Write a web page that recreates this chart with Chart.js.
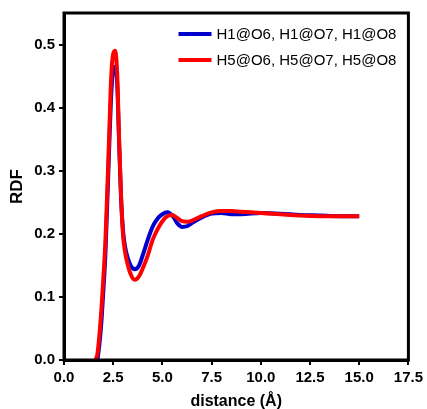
<!DOCTYPE html>
<html>
<head>
<meta charset="utf-8">
<script src="https://cdn.jsdelivr.net/npm/chart.js@4/dist/chart.umd.min.js"></script>
<style>
  html, body { margin: 0; padding: 0; background: #fff; }
  #wrap { width: 427px; height: 409px; }
</style>
</head>
<body>
<div id="wrap"><canvas id="rdfChart"></canvas></div>
<script>
// distance grid (Å)
const distance = [1.6, 1.7, 1.8, 1.9, 2.0, 2.1, 2.2, 2.3, 2.4, 2.5, 2.6, 2.7, 2.8, 2.9, 3.0, 3.1,
  3.2, 3.4, 3.6, 3.8, 4.0, 4.25, 4.5, 4.75, 5.0, 5.25, 5.5, 5.75, 6.0, 6.25, 6.5,
  7.0, 7.5, 8.0, 8.5, 9.0, 10.0, 11.0, 12.0, 13.0, 14.0, 15.0];

// H1@O6, H1@O7, H1@O8
const rdfH1 = [null, 0, 0.025, 0.06, 0.11, 0.165, 0.25, 0.34, 0.42, 0.46, 0.465, 0.44, 0.345, 0.255, 0.205, 0.18,
  0.166, 0.149, 0.144, 0.149, 0.166, 0.19, 0.211, 0.224, 0.231, 0.234, 0.229, 0.217, 0.211, 0.212, 0.217,
  0.226, 0.232, 0.233, 0.231, 0.231, 0.233, 0.232, 0.230, 0.229, 0.228, 0.228];

// H5@O6, H5@O7, H5@O8
const rdfH5 = [0, 0.01, 0.04, 0.08, 0.13, 0.185, 0.27, 0.36, 0.45, 0.485, 0.49, 0.455, 0.35, 0.26, 0.198, 0.172,
  0.156, 0.135, 0.127, 0.132, 0.145, 0.165, 0.19, 0.207, 0.22, 0.228, 0.23, 0.225, 0.22, 0.219, 0.221,
  0.228, 0.234, 0.236, 0.236, 0.235, 0.233, 0.231, 0.229, 0.228, 0.228, 0.228];

const seriesLabels = ['H1@O6, H1@O7, H1@O8', 'H5@O6, H5@O7, H5@O8'];
const seriesColors = ['#0000cc', '#ff0000'];

const FONT = "'Liberation Sans', Arial, sans-serif";

function toPoints(ys) {
  return distance.map((x, i) => ({ x: x, y: ys[i] }));
}

// frame around the plot + legend in the top right corner
const framePlugin = {
  id: 'frame',
  afterDraw(chart) {
    const ctx = chart.ctx;
    const a = chart.chartArea;
    ctx.save();
    ctx.strokeStyle = '#000';
    ctx.lineWidth = 3;
    ctx.strokeRect(a.left, a.top, a.right - a.left, a.bottom - a.top);

    ctx.font = '15px ' + FONT;
    ctx.textBaseline = 'middle';
    const widths = seriesLabels.map(t => ctx.measureText(t).width);
    const textLeft = a.right - 12 - Math.max(...widths);
    chart.data.datasets.forEach((ds, i) => {
      const y = a.top + 21 + i * 26;
      ctx.strokeStyle = ds.borderColor;
      ctx.lineWidth = 4;
      ctx.beginPath();
      ctx.moveTo(textLeft - 38, y);
      ctx.lineTo(textLeft - 5, y);
      ctx.stroke();
      ctx.fillStyle = '#000';
      ctx.fillText(ds.label, textLeft, y + 1);
    });
    ctx.restore();
  }
};

const ctx = document.getElementById('rdfChart').getContext('2d');
const rdfChart = new Chart(ctx, {
  type: 'line',
  data: {
    datasets: [
      {
        label: seriesLabels[0],
        data: toPoints(rdfH1),
        borderColor: seriesColors[0],
        borderWidth: 4,
        pointRadius: 0,
        cubicInterpolationMode: 'monotone',
        order: 2
      },
      {
        label: seriesLabels[1],
        data: toPoints(rdfH5),
        borderColor: seriesColors[1],
        borderWidth: 4,
        pointRadius: 0,
        cubicInterpolationMode: 'monotone',
        order: 1
      }
    ]
  },
  options: {
    responsive: true,
    maintainAspectRatio: false,
    animation: false,
    layout: { padding: { top: 13, right: 17, left: 0, bottom: 0 } },
    plugins: {
      legend: { display: false },
      tooltip: { enabled: false }
    },
    scales: {
      x: {
        type: 'linear',
        min: 0,
        max: 17.5,
        grid: { drawOnChartArea: false, drawTicks: true, tickLength: 5, color: '#000', lineWidth: 2 },
        border: { color: '#000', width: 3 },
        ticks: {
          stepSize: 2.5,
          padding: 4,
          color: '#000',
          maxRotation: 0,
          font: { family: FONT, size: 15, weight: 'bold' },
          callback: v => v.toFixed(1)
        },
        title: {
          display: true,
          text: 'distance (Å)',
          color: '#000',
          font: { family: FONT, size: 16, weight: 'bold', lineHeight: 0.9 },
          padding: { top: 0, bottom: 0 }
        },
        afterFit(scale) { scale.height = 49; }
      },
      y: {
        min: 0,
        max: 0.55,
        grid: { drawOnChartArea: false, drawTicks: true, tickLength: 5, color: '#000', lineWidth: 2 },
        border: { color: '#000', width: 3 },
        ticks: {
          stepSize: 0.1,
          padding: 4,
          color: '#000',
          font: { family: FONT, size: 15, weight: 'bold' },
          callback: v => v.toFixed(1)
        },
        afterBuildTicks(scale) {
          scale.ticks = scale.ticks.filter(t => Math.abs(t.value * 10 - Math.round(t.value * 10)) < 1e-6);
        },
        title: {
          display: true,
          text: 'RDF',
          color: '#000',
          font: { family: FONT, size: 17, weight: 'bold' },
          padding: { top: 7, bottom: 0 }
        },
        afterFit(scale) { scale.width = 64; }
      }
    }
  },
  plugins: [framePlugin]
});
</script>
</body>
</html>
